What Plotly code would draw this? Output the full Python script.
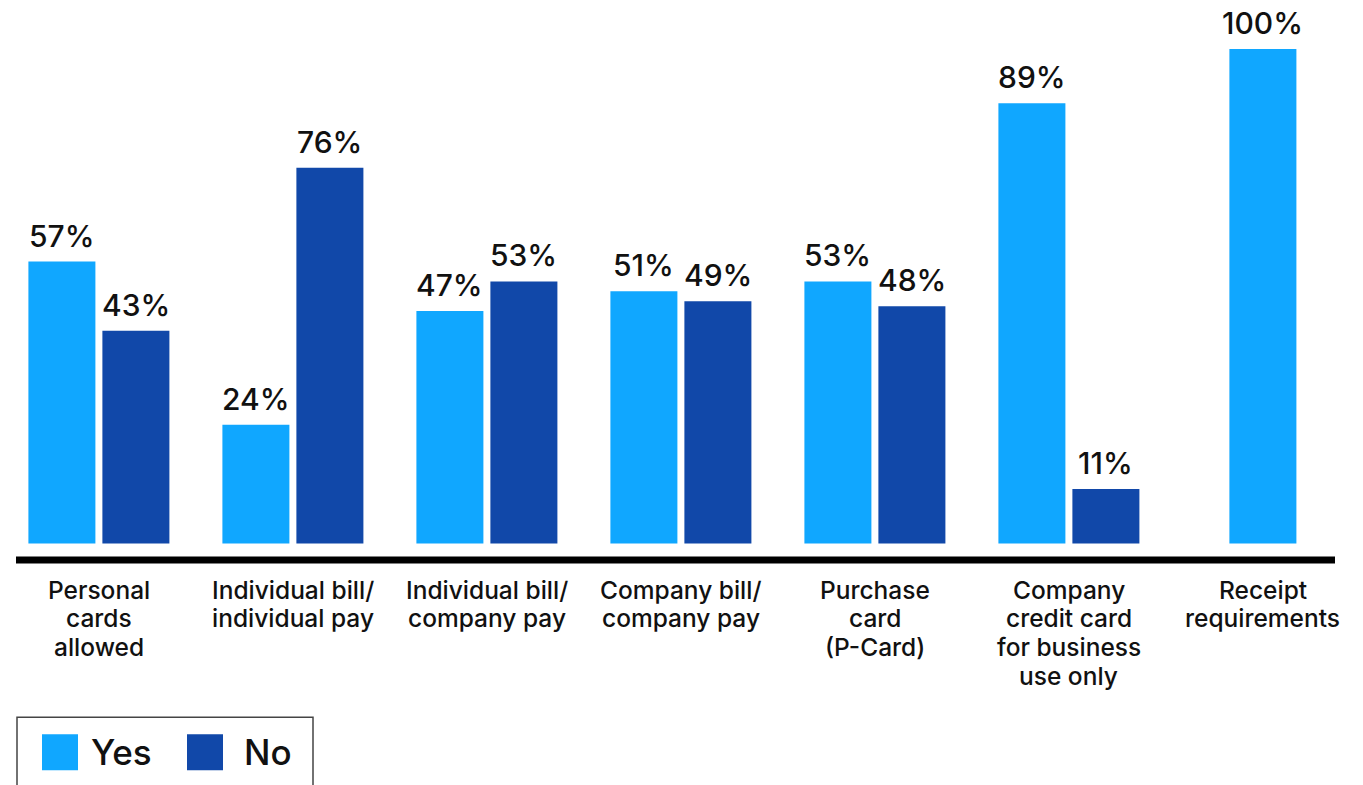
import plotly.graph_objects as go

# Card policy survey: share of respondents answering Yes / No
categories = [
    "Personal<br>cards<br>allowed",
    "Individual bill/<br>individual pay",
    "Individual bill/<br>company pay",
    "Company bill/<br>company pay",
    "Purchase<br>card<br>(P-Card)",
    "Company<br>credit card<br>for business<br>use only",
    "Receipt<br>requirements",
]
yes_values = [57, 24, 47, 51, 53, 89, 100]
no_values = [43, 76, 53, 49, 48, 11, None]
series_names = ["Yes", "No"]

YES_COLOR = "#10A7FF"
NO_COLOR = "#1148A9"
FONT = "Inter"

W, H = 1363, 785
M_L, M_R, M_T, M_B = 16, 28, 0, 224.5
plot_w = W - M_L - M_R
plot_h = H - M_T - M_B

bar_w = 0.3454          # bar width in category units
half_gap = 0.018        # half of the gap between paired bars

# place the pair side by side; a lone bar sits centred on its category
yes_offset = [(-bar_w - half_gap) if n is not None else -bar_w / 2 for n in no_values]
yes_center = [o + bar_w / 2 for o in yes_offset]
no_offset = [half_gap] * len(categories)
no_center = [half_gap + bar_w / 2] * len(categories)

fig = go.Figure()
fig.add_trace(go.Bar(
    x=categories, y=yes_values, name=series_names[0],
    marker=dict(color=YES_COLOR, line=dict(width=0)),
    width=bar_w, offset=yes_offset, showlegend=False,
))
fig.add_trace(go.Bar(
    x=categories, y=no_values, name=series_names[1],
    marker=dict(color=NO_COLOR, line=dict(width=0)),
    width=bar_w, offset=no_offset, showlegend=False,
))

annotations = []

# value labels above each bar
for i, (yv, nv) in enumerate(zip(yes_values, no_values)):
    for val, c in ((yv, yes_center[i]), (nv, no_center[i])):
        if val is None:
            continue
        annotations.append(dict(
            x=i + c, y=val, xref="x", yref="y", text=f"{val}%",
            showarrow=False, yanchor="bottom", xanchor="center", yshift=6,
            font=dict(family=FONT, size=30, color="#111111", weight=500),
        ))

# category labels under the baseline, set line by line for tight leading
LINE_PITCH = 28.7
for cat in categories:
    for j, line in enumerate(cat.split("<br>")):
        annotations.append(dict(
            x=cat, y=0, xref="x", yref="paper", text=line,
            showarrow=False, xanchor="center", yanchor="middle",
            yshift=-(29.5 + j * LINE_PITCH),
            font=dict(family=FONT, size=24.5, color="#111111", weight=500),
        ))

# hand-drawn legend box beneath the chart
def px_x(px):
    return (px - M_L) / plot_w

def px_y(py):
    return (M_T + plot_h - py) / plot_h

shapes = [
    # heavy baseline
    dict(type="line", xref="paper", yref="paper", x0=0, x1=1,
         y0=px_y(560.5), y1=px_y(560.5), line=dict(color="black", width=7), layer="above"),
    # legend frame
    dict(type="rect", xref="paper", yref="paper", x0=px_x(17), x1=px_x(313),
         y0=px_y(718), y1=px_y(800), line=dict(color="#444444", width=1.5),
         fillcolor="rgba(0,0,0,0)"),
    dict(type="rect", xref="paper", yref="paper", x0=px_x(42), x1=px_x(78),
         y0=px_y(771), y1=px_y(735), line=dict(width=0), fillcolor=YES_COLOR),
    dict(type="rect", xref="paper", yref="paper", x0=px_x(187), x1=px_x(223),
         y0=px_y(771), y1=px_y(735), line=dict(width=0), fillcolor=NO_COLOR),
]
for name, x in ((series_names[0], 89), (series_names[1], 242)):
    annotations.append(dict(
        x=px_x(x), y=px_y(753), xref="paper", yref="paper", text=name,
        showarrow=False, xanchor="left", yanchor="middle",
        font=dict(family=FONT, size=35, color="#111111", weight=500),
    ))

# 0 sits at y=544px, 100 at y=49px
y_lo = -(M_T + plot_h - 544) / 4.95
y_hi = y_lo + plot_h / 4.95
x_lo = -0.4273
x_hi = x_lo + plot_w / 194.0

fig.update_layout(
    width=W, height=H,
    margin=dict(l=M_L, r=M_R, t=M_T, b=M_B, pad=0),
    paper_bgcolor="white", plot_bgcolor="white",
    barmode="overlay",
    xaxis=dict(
        type="category", range=[x_lo, x_hi], showgrid=False, zeroline=False,
        showline=False, ticks="", showticklabels=False,
    ),
    yaxis=dict(range=[y_lo, y_hi], visible=False, showgrid=False, zeroline=False),
    shapes=shapes, annotations=annotations,
)

fig.write_html("out.html")
